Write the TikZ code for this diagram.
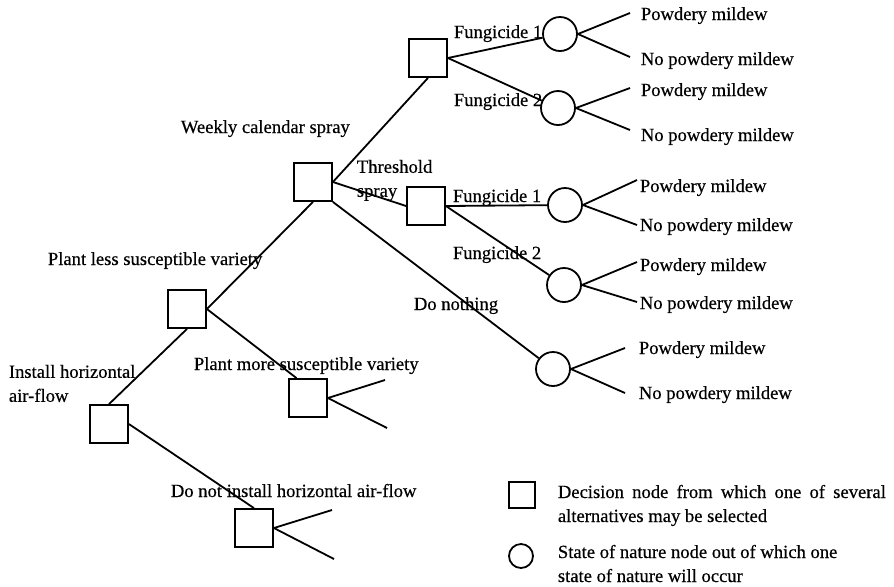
\documentclass[tikz,border=0pt]{standalone}
\usepackage{fontspec}
\setmainfont{Liberation Serif}[FakeBold=0.4]
\usetikzlibrary{positioning}

\begin{document}
\begin{tikzpicture}[
  x=0.5pt, y=-0.5pt,
  line width=0.9pt,
  every node/.style={font=\fontsize{9.3}{12}\selectfont},
  decision/.style={rectangle, draw, minimum size=19pt, inner sep=0pt},
  chance/.style={circle, draw, minimum size=17pt, inner sep=0pt},
  lbl/.style={anchor=base west, inner sep=0pt},
  twoline/.style={anchor=north west, inner sep=0pt, align=left},
]
  \useasboundingbox (0,0) rectangle (894,586);

  % Decision nodes
  \node[decision] (air)    at (109,424) {};
  \node[decision] (less)   at (187,309) {};
  \node[decision] (more)   at (308,398) {};
  \node[decision] (noair)  at (254,528) {};
  \node[decision] (spray)  at (313,182) {};
  \node[decision] (weekly) at (428,58)  {};
  \node[decision] (thresh) at (426,206) {};

  % State of nature nodes
  \node[chance] (w1)   at (560,34)  {};
  \node[chance] (w2)   at (558,108) {};
  \node[chance] (t1)   at (565,205) {};
  \node[chance] (t2)   at (564,285) {};
  \node[chance] (none) at (553,369) {};

  % Branches
  \draw (air.north) -- (less.south);
  \draw (air.east) -- (noair.north);
  \draw (less.east) -- (spray.south);
  \draw (less.east) -- (more.120);
  \draw (spray.east) -- (weekly.south);
  \draw (spray.east) -- (thresh.west);
  \draw (spray.south east) -- (none);
  \draw (weekly.east) -- (w1);
  \draw (weekly.east) -- (w2);
  \draw (thresh.east) -- (t1);
  \draw (thresh.east) -- (t2);

  % Open ends
  \coordinate (more up)  at (385,380);
  \coordinate (more dn)  at (387,428);
  \coordinate (noair up) at (332,510);
  \coordinate (noair dn) at (334,559);
  \draw (more.east) -- (more up);
  \draw (more.east) -- (more dn);
  \draw (noair.east) -- (noair up);
  \draw (noair.east) -- (noair dn);

  % Outcomes
  \coordinate (w1 up)   at (630,13);
  \coordinate (w1 dn)   at (630,57);
  \coordinate (w2 up)   at (630,88);
  \coordinate (w2 dn)   at (630,130);
  \coordinate (t1 up)   at (637,180);
  \coordinate (t1 dn)   at (637,225);
  \coordinate (t2 up)   at (637,262);
  \coordinate (t2 dn)   at (637,302);
  \coordinate (none up) at (625,348);
  \coordinate (none dn) at (625,393);
  \draw (w1.east) -- (w1 up);
  \draw (w1.east) -- (w1 dn);
  \draw (w2.east) -- (w2 up);
  \draw (w2.east) -- (w2 dn);
  \draw (t1.east) -- (t1 up);
  \draw (t1.east) -- (t1 dn);
  \draw (t2.east) -- (t2 up);
  \draw (t2.east) -- (t2 dn);
  \draw (none.east) -- (none up);
  \draw (none.east) -- (none dn);

  \node[lbl] (w1pm)   at (640,20)  {Powdery mildew};
  \node[lbl] (w1npm)  at (640,65)  {No powdery mildew};
  \node[lbl] (w2pm)   at (640,96)  {Powdery mildew};
  \node[lbl] (w2npm)  at (640,141) {No powdery mildew};
  \node[lbl] (t1pm)   at (639,192) {Powdery mildew};
  \node[lbl] (t1npm)  at (639,231) {No powdery mildew};
  \node[lbl] (t2pm)   at (639,271) {Powdery mildew};
  \node[lbl] (t2npm)  at (639,309) {No powdery mildew};
  \node[lbl] (nonepm) at (638,354) {Powdery mildew};
  \node[lbl] (nonenpm) at (638,399) {No powdery mildew};

  % Branch labels
  \node[lbl] (lweekly) at (180,133) {Weekly calendar spray};
  \node[twoline] (lthresh) at (356,159) {Threshold\\spray};
  \node[lbl] (lw1)   at (453,38)  {Fungicide 1};
  \node[lbl] (lw2)   at (453,106) {Fungicide 2};
  \node[lbl] (lt1)   at (452,202) {Fungicide 1};
  \node[lbl] (lt2)   at (452,259) {Fungicide 2};
  \node[lbl] (lnone) at (413,310) {Do nothing};
  \node[lbl] (lless) at (47,265)  {Plant less susceptible variety};
  \node[twoline] (lair) at (8,364) {Install horizontal\\air-flow};
  \node[lbl] (lmore)  at (193,370) {Plant more susceptible variety};
  \node[lbl] (lnoair) at (170,497) {Do not install horizontal air-flow};

  % Key
  \node[decision, minimum size=13pt] (keyd) at (522,495) {};
  \node[chance, minimum size=12pt]   (keyc) at (521,556) {};
  \node[twoline] (keydtxt) at (557,484)
    {\makebox[164pt][s]{Decision node from which one of several}\\alternatives may be selected};
  \node[twoline] (keyctxt) at (557,544)
    {State of nature node out of which one\\state of nature will occur};

\end{tikzpicture}
\end{document}
